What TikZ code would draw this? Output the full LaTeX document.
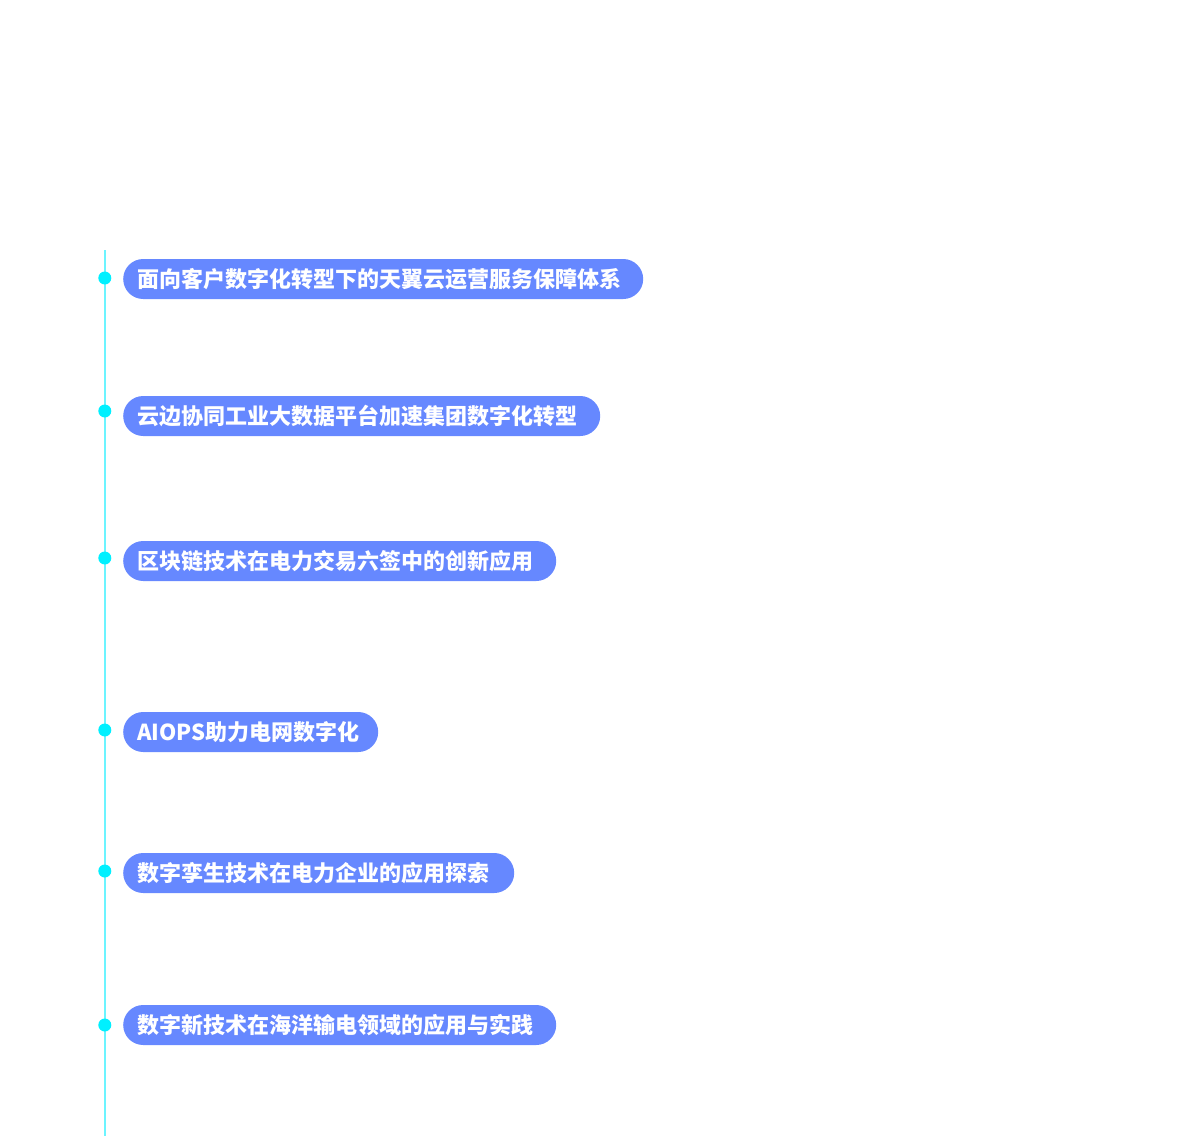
\documentclass[tikz,border=0pt]{standalone}
\usepackage{fontspec}
\newfontfamily\cjk{Noto Sans CJK SC}
\usetikzlibrary{positioning}
\definecolor{pillblue}{HTML}{6688FF}
\definecolor{linecyan}{HTML}{6CF4FF}
\definecolor{dotcyan}{HTML}{00F0FF}

\begin{document}
\begin{tikzpicture}[x=1pt,y=-1pt]
    \tikzset{talk/.style = {shape=rectangle,fill=pillblue,text=white,rounded corners=20pt,
        minimum height=40pt,inner xsep=14pt,inner ysep=0pt,align=left,anchor=west,
        font=\cjk\bfseries\fontsize{22}{24}\selectfont}}
    \tikzset{dot/.style = {shape=circle,fill=dotcyan,inner sep=0pt,minimum size=13pt}}
    \useasboundingbox (0,0) rectangle (1200,1136);
    % timeline
    \coordinate (top) at (104.8,250);
    \coordinate (bottom) at (104.8,1136);
    \draw[linecyan,line width=2pt] (top) -- (bottom);
    % talks
    \foreach \y/\d/\w/\t [count=\i] in {
        279/278/520/{面向客户数字化转型下的天翼云运营服务保障体系},
        416/411/477/{云边协同工业大数据平台加速集团数字化转型},
        561/558/433/{区块链技术在电力交易六签中的创新应用},
        732/730/255/{AIOPS助力电网数字化},
        873/871/391/{数字孪生技术在电力企业的应用探索},
        1025/1025/433/{数字新技术在海洋输电领域的应用与实践}} {
        \pgfmathsetmacro\tw{\w-28}
        \node[dot] (dot\i) at (104.8,\d) {};
        \node[talk,text width=\tw pt] (talk\i) at (123,\y) {\t};
    }
\end{tikzpicture}
\end{document}
